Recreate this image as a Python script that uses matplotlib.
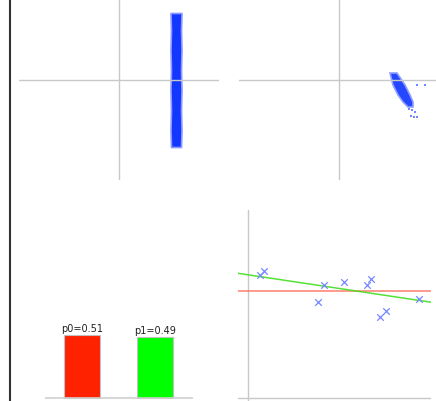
import numpy as np
import matplotlib
matplotlib.use("Agg")
import matplotlib.pyplot as plt

W, H = 436, 401

# top-left cloud: a narrow vertical band (edges at a few heights)
band_y = [0.67, 0.50, 0.30, 0.10, -0.10, -0.30, -0.50, -0.67]
band_left = [0.515, 0.52, 0.515, 0.52, 0.515, 0.52, 0.515, 0.52]
band_right = [0.625, 0.62, 0.625, 0.62, 0.625, 0.62, 0.625, 0.62]

# top-right cloud: slanted blob plus a few stray points
blob_x = [0.51, 0.58, 0.66, 0.71, 0.74, 0.74, 0.69, 0.64, 0.59, 0.54]
blob_y = [0.07, 0.07, -0.05, -0.15, -0.22, -0.27, -0.27, -0.22, -0.15, -0.05]
stray_x = [0.78, 0.86, 0.70, 0.73, 0.76, 0.72, 0.75, 0.78]
stray_y = [-0.05, -0.05, -0.29, -0.30, -0.32, -0.36, -0.37, -0.37]

# bar chart of the two probabilities
labels = ["p0", "p1"]
probs = [0.51, 0.49]
bar_colors = ["#ff2200", "#00ff00"]

# regression sample points
xs = [0.66, 0.89, 4.14, 3.83, 5.26, 6.50, 6.70, 7.20, 7.54, 9.33]
ys = [1.58, 1.92, 0.52, -1.18, 0.85, 0.58, 1.18, -2.68, -2.05, -0.82]
fit_intercept = 1.57
fit_slope = -0.274

GRAY = "#c8c8c8"


def add_ax(fig, left, top, width, height):
    ax = fig.add_axes([left / W, 1 - (top + height) / H, width / W, height / H])
    ax.axis("off")
    return ax


fig = plt.figure(figsize=(W / 100, H / 100), dpi=100)
fig.patch.set_facecolor("white")

# left border
fig.add_artist(plt.Line2D([10 / W, 10 / W], [0, 1], transform=fig.transFigure,
                          color="#333333", lw=1.5))

# top-left
ax1 = add_ax(fig, 19, 0, 200, 180)
ax1.set_xlim(-1, 1)
ax1.set_ylim(-1.0, 0.8)
ax1.axhline(0, color=GRAY, lw=1)
ax1.axvline(0, color=GRAY, lw=1)
ax1.fill_betweenx(band_y, band_left, band_right, color="#1437ff",
                  edgecolor="#8898ff", lw=1.2)

# top-right
ax2 = add_ax(fig, 239, 0, 200, 180)
ax2.set_xlim(-1, 1)
ax2.set_ylim(-1.0, 0.8)
ax2.axhline(0, color=GRAY, lw=1)
ax2.axvline(0, color=GRAY, lw=1)
ax2.fill(blob_x, blob_y, color="#2447ff", edgecolor="#8e9eff", lw=1.2)
ax2.scatter(stray_x, stray_y, s=1.5, color="#6f84ff", marker="s", lw=0)

# bottom-left bars
ax3 = add_ax(fig, 45, 190, 148, 211)
ax3.set_xlim(-0.514, 1.53)
ax3.set_ylim(-3 / 123.5, 208 / 123.5)
ax3.axhline(0, color="#d0d0d0", lw=1.2)
ax3.bar(range(len(probs)), probs, width=0.5, color=bar_colors,
        edgecolor="#c0c0c0", lw=0.8)
for i, (lab, p) in enumerate(zip(labels, probs)):
    ax3.text(i, p + 0.012, f"{lab}={p:.2f}", ha="center", va="bottom",
             fontsize=7, color="#222222")

# bottom-right regression
ax4 = add_ax(fig, 238, 210, 193, 191)
ax4.set_xlim(-0.546, 10.0)
ax4.set_ylim(-11.05, 8.05)
ax4.axvline(0, color=GRAY, lw=1)
ax4.axhline(-10.75, color=GRAY, lw=1)
ax4.axhline(np.mean(ys), color="#ff7060", lw=1.1, alpha=0.9)
ax4.axline((0, fit_intercept), slope=fit_slope, color="#44dd22", lw=1.1, alpha=0.9)
ax4.scatter(xs, ys, marker="x", s=22, color="#7587ff", lw=0.9, zorder=3)

fig.savefig("out.png", dpi=100)
